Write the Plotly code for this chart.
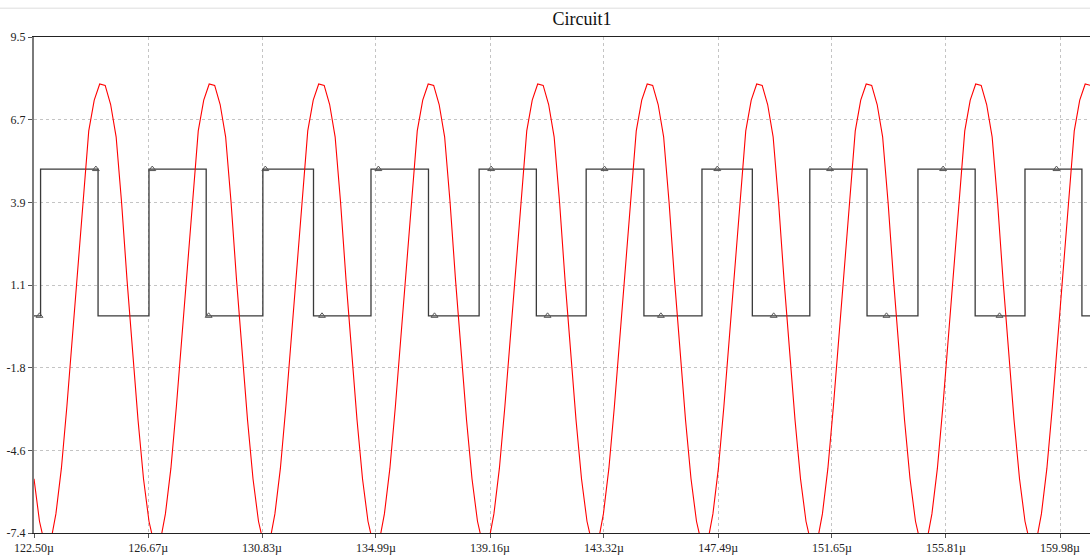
import numpy as np
import plotly.graph_objects as go

# ---- sampled output voltage (red), 0.2 us sampling from 122.50 us ----
T_START = 122.50
T_STEP = 0.2
v_out = [
    -5.55, -7.0, -7.82, -7.75, -6.75, -5.2, -3.1, -0.7, 1.7, 4.2, 6.3, 7.35, 7.9,
    7.85, 7.2, 6.1, 3.85, 1.2, -1.2, -3.55, -5.55, -7.0, -7.82, -7.75, -6.75, -5.2, -3.1, -0.7, 1.7, 4.2, 6.3, 7.35, 7.9,
    7.85, 7.2, 6.1, 3.85, 1.2, -1.2, -3.55, -5.55, -7.0, -7.82, -7.75, -6.75, -5.2, -3.1, -0.7, 1.7, 4.2, 6.3, 7.35, 7.9,
    7.85, 7.2, 6.1, 3.85, 1.2, -1.2, -3.55, -5.55, -7.0, -7.82, -7.75, -6.75, -5.2, -3.1, -0.7, 1.7, 4.2, 6.3, 7.35, 7.9,
    7.85, 7.2, 6.1, 3.85, 1.2, -1.2, -3.55, -5.55, -7.0, -7.82, -7.75, -6.75, -5.2, -3.1, -0.7, 1.7, 4.2, 6.3, 7.35, 7.9,
    7.85, 7.2, 6.1, 3.85, 1.2, -1.2, -3.55, -5.55, -7.0, -7.82, -7.75, -6.75, -5.2, -3.1, -0.7, 1.7, 4.2, 6.3, 7.35, 7.9,
    7.85, 7.2, 6.1, 3.85, 1.2, -1.2, -3.55, -5.55, -7.0, -7.82, -7.75, -6.75, -5.2, -3.1, -0.7, 1.7, 4.2, 6.3, 7.35, 7.9,
    7.85, 7.2, 6.1, 3.85, 1.2, -1.2, -3.55, -5.55, -7.0, -7.82, -7.75, -6.75, -5.2, -3.1, -0.7, 1.7, 4.2, 6.3, 7.35, 7.9,
    7.85, 7.2, 6.1, 3.85, 1.2, -1.2, -3.55, -5.55, -7.0, -7.82, -7.75, -6.75, -5.2, -3.1, -0.7, 1.7, 4.2, 6.3, 7.35, 7.9,
    7.85, 7.2, 6.1, 3.85, 1.2, -1.2, -3.55, -5.55, -7.0, -7.82, -7.75, -6.75, -5.2, -3.1, -0.7, 1.7, 4.2, 6.3, 7.35, 7.9,
    7.85,
]
t_out = T_START + T_STEP * np.arange(len(v_out))

# ---- gate drive square wave (black): edge times in us ----
rise_us = [122.74, 126.70, 130.86, 134.81, 138.76, 142.67, 146.90, 150.84, 154.79, 158.70]
fall_us = [124.84, 128.79, 132.71, 136.91, 140.85, 144.78, 148.74, 152.93, 156.88, 160.78]
LOW, HIGH = 0.0, 5.0

# triangle probe markers on the square wave
marker_us = [122.70, 124.76, 126.82, 128.88, 130.95, 133.02, 135.08, 137.13, 139.20, 141.26,
             143.34, 145.40, 147.46, 149.52, 151.58, 153.64, 155.71, 157.77, 159.85]
marker_v = [0, 5, 5, 0, 5, 0, 5, 0, 5, 0, 5, 0, 5, 0, 5, 0, 5, 0, 5]

# ---- axes ----
X_MAX = 161.075
Y_MIN, Y_MAX = -7.4, 9.5
x_tickvals = [122.50, 126.67, 130.83, 134.99, 139.16, 143.32, 147.49, 151.65, 155.81, 159.98]
x_ticktext = ["122.50µ", "126.67µ", "130.83µ", "134.99µ", "139.16µ",
              "143.32µ", "147.49µ", "151.65µ", "155.81µ", "159.98µ"]
y_ticktext = ["9.5", "6.7", "3.9", "1.1", "-1.8", "-4.6", "-7.4"]
y_tickvals = list(np.linspace(Y_MAX, Y_MIN, len(y_ticktext)))

sq_x = [T_START]
sq_y = [LOW]
for r, f in zip(rise_us, fall_us):
    sq_x += [r, r, f, f]
    sq_y += [LOW, HIGH, HIGH, LOW]
sq_x.append(X_MAX)
sq_y.append(LOW)

fig = go.Figure()
fig.add_trace(go.Scatter(x=sq_x, y=sq_y, mode="lines",
                         line=dict(color="#3a3a3a", width=1.3), hoverinfo="skip"))
fig.add_trace(go.Scatter(x=marker_us, y=marker_v, mode="markers",
                         marker=dict(symbol="triangle-up-open", size=6,
                                     color="#555555", line=dict(width=1))))
fig.add_trace(go.Scatter(x=t_out, y=v_out, mode="lines",
                         line=dict(color="#ff0000", width=1.1)))

serif = "Liberation Serif, Times New Roman, serif"
fig.update_layout(
    width=1090, height=555,
    margin=dict(l=34, r=0, t=37, b=19),
    paper_bgcolor="white", plot_bgcolor="white",
    showlegend=False,
    title=dict(text="Circuit1", x=582 / 1090, xanchor="center",
               y=1 - 19 / 555, yanchor="middle",
               font=dict(family=serif, size=18, color="#111111")),
    font=dict(family=serif, size=12, color="#222222"),
)
fig.update_xaxes(
    range=[T_START, X_MAX], tickvals=x_tickvals, ticktext=x_ticktext,
    showgrid=True, gridcolor="#c4c4c4", griddash="3px,3px", gridwidth=1,
    showline=True, linecolor="#222222", linewidth=1, mirror=True,
    ticks="outside", ticklen=4, tickcolor="#555555",
    zeroline=False, tickfont=dict(family=serif, size=12, color="#222222"),
)
fig.update_yaxes(
    range=[Y_MIN, Y_MAX], tickvals=y_tickvals, ticktext=y_ticktext,
    showgrid=True, gridcolor="#c4c4c4", griddash="3px,3px", gridwidth=1,
    showline=True, linecolor="#7a7a7a", linewidth=2,
    ticks="outside", ticklen=4, tickcolor="#555555",
    zeroline=False, tickfont=dict(family=serif, size=12, color="#222222"),
)
# thin rule above the title
fig.add_shape(type="line", xref="paper", yref="paper", x0=-34 / 1056, x1=1, y0=1 + 29 / 499, y1=1 + 29 / 499,
              line=dict(color="#dddddd", width=1))

fig.write_html("out.html")
